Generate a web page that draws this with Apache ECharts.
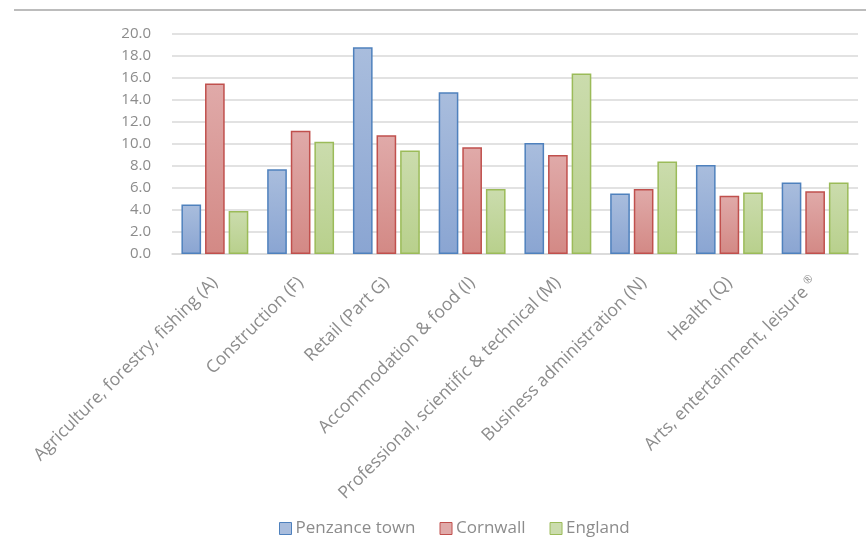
<!DOCTYPE html>
<html>
<head>
<meta charset="utf-8">
<script src="https://cdn.jsdelivr.net/npm/echarts@6/dist/echarts.min.js"></script>
<style>
  html, body { margin: 0; padding: 0; background: #fff; }
  #chart { width: 866px; height: 554px; }
</style>
</head>
<body>
<div id="chart"></div>
<script>
// Employment share by industry (%)
const categories = [
  'Agriculture, forestry, fishing (A)',
  'Construction (F)',
  'Retail (Part G)',
  'Accommodation & food (I)',
  'Professional, scientific & technical (M)',
  'Business administration (N)',
  'Health (Q)',
  'Arts, entertainment, leisure \u00AE'
];
const seriesNames = ['Penzance town', 'Cornwall', 'England'];
const penzance = [4.5, 7.7, 18.8, 14.7, 10.1, 5.5, 8.1, 6.5];
const cornwall = [15.5, 11.2, 10.8, 9.7, 9.0, 5.9, 5.3, 5.7];
const england  = [3.9, 10.2, 9.4, 5.9, 16.4, 8.4, 5.6, 6.5];

const palettes = [
  { top: '#a9bddd', bottom: '#8aa5d2', border: '#4f81bd' },
  { top: '#e0aaa9', bottom: '#d38985', border: '#c0504d' },
  { top: '#cbdcad', bottom: '#b8d08c', border: '#9bbb59' }
];

const labelColor = '#8c8c8c';

function barSeries(name, data, p) {
  return {
    name: name,
    type: 'bar',
    data: data,
    barGap: '20%',
    barCategoryGap: '22%',
    itemStyle: {
      color: new echarts.graphic.LinearGradient(0, 0, 0, 1, [
        { offset: 0, color: p.top },
        { offset: 1, color: p.bottom }
      ]),
      borderColor: p.border,
      borderWidth: 1.5
    }
  };
}

// The registered-mark symbol is set as a small raised glyph
function categoryLabel(value) {
  const i = value.indexOf(' \u00AE');
  if (i < 0) return '{t|' + value + '}';
  return '{t|' + value.slice(0, i) + ' }{sup|\u00AE}';
}

const chart = echarts.init(document.getElementById('chart'));
chart.setOption({
  animation: false,
  backgroundColor: '#ffffff',
  color: palettes.map(p => p.bottom),
  graphic: [{
    type: 'line',
    shape: { x1: 14, y1: 10, x2: 866, y2: 10 },
    style: { stroke: '#a6a6a6', lineWidth: 1.5 }
  }],
  grid: { left: 172, right: 8, top: 34, bottom: 300 },
  legend: {
    bottom: 12,
    left: 274,
    itemWidth: 12,
    itemHeight: 12,
    itemGap: 24,
    icon: 'rect',
    textStyle: { color: labelColor, fontSize: 17, fontFamily: 'Open Sans', padding: [0, 0, 0, -1] },
    data: seriesNames.map((n, i) => ({
      name: n,
      itemStyle: { color: palettes[i].top, borderColor: palettes[i].border, borderWidth: 1 }
    }))
  },
  xAxis: {
    type: 'category',
    data: categories,
    axisLine: { lineStyle: { color: '#d9d9d9', width: 1.5 } },
    axisTick: { show: false },
    axisLabel: {
      interval: 0,
      rotate: 45,
      margin: 26,
      color: labelColor,
      fontSize: 17.5,
      fontFamily: 'Open Sans',
      formatter: categoryLabel,
      rich: {
        t: { color: labelColor, fontSize: 17.5, fontFamily: 'Open Sans' },
        sup: { color: labelColor, fontSize: 11, fontFamily: 'Open Sans', verticalAlign: 'top', padding: [0, 0, 10, 0] }
      }
    }
  },
  yAxis: {
    type: 'value',
    min: 0,
    max: 20,
    interval: 2,
    axisLine: { show: false },
    axisTick: { show: false },
    splitLine: { lineStyle: { color: '#d9d9d9', width: 1.5 } },
    axisLabel: {
      margin: 21,
      color: labelColor,
      fontSize: 15,
      fontFamily: 'Open Sans',
      formatter: v => v.toFixed(1)
    }
  },
  series: [
    barSeries(seriesNames[0], penzance, palettes[0]),
    barSeries(seriesNames[1], cornwall, palettes[1]),
    barSeries(seriesNames[2], england, palettes[2])
  ]
});
</script>
</body>
</html>
